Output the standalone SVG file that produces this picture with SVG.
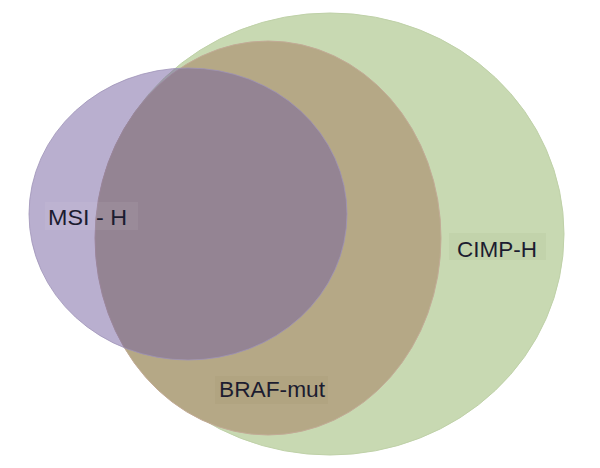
<svg xmlns="http://www.w3.org/2000/svg" width="600" height="468" viewBox="0 0 600 468">
<style>
  .lbl { font-family: "Liberation Sans", Arial, sans-serif; font-size: 22px; fill: #1c1c30; }
  .box { stroke: none; }
</style>
<rect x="0" y="0" width="600" height="468" fill="#ffffff"/>
<g id="cimp-h">
  <ellipse cx="330" cy="234" rx="234" ry="221" fill="#c8d9b2" stroke="#bfd1a8" stroke-width="1"/>
</g>
<g id="braf-mut">
  <ellipse cx="268" cy="238" rx="173" ry="197" fill="#b5a886" stroke="#c2ab96" stroke-width="1"/>
</g>
<g id="msi-h">
  <ellipse cx="188" cy="214" rx="159" ry="146" fill="#735f9f" fill-opacity="0.5" stroke="#9e93b8" stroke-width="0.8"/>
</g>
<g id="connectors"></g>
<g id="label-msi-h">
  <rect class="box" x="45" y="202" width="93" height="28" fill="#ffffff" fill-opacity="0.06"/>
  <text class="lbl" x="48" y="225" textLength="79" lengthAdjust="spacingAndGlyphs">MSI - H</text>
</g>
<g id="label-cimp-h">
  <rect class="box" x="449" y="233" width="97" height="27" fill="#a8c090" fill-opacity="0.2"/>
  <text class="lbl" x="457" y="257" textLength="80" lengthAdjust="spacingAndGlyphs">CIMP-H</text>
</g>
<g id="label-braf-mut">
  <rect class="box" x="215" y="376" width="113" height="28" fill="#9a8c68" fill-opacity="0.15"/>
  <text class="lbl" x="219" y="397" textLength="106" lengthAdjust="spacingAndGlyphs">BRAF-mut</text>
</g>
</svg>
